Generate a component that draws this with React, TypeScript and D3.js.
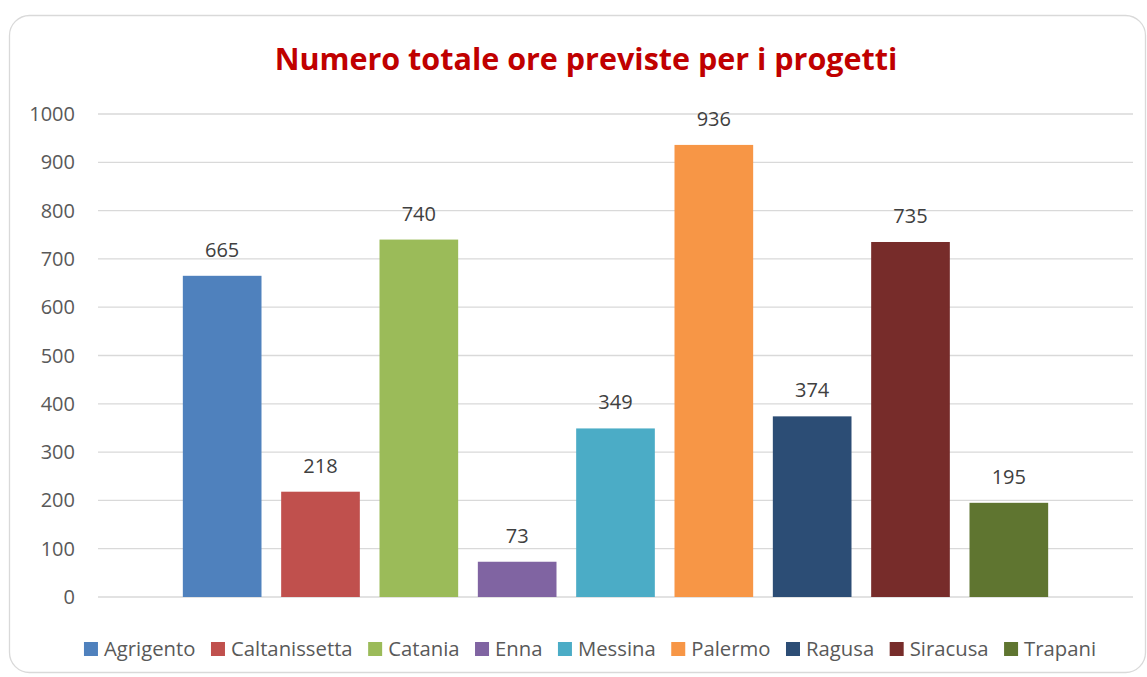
import React, { useEffect, useRef } from 'react'
import * as d3 from 'd3'

const provinces = ['Agrigento', 'Caltanissetta', 'Catania', 'Enna', 'Messina', 'Palermo', 'Ragusa', 'Siracusa', 'Trapani']
const hours = [665, 218, 740, 73, 349, 936, 374, 735, 195]
const colors = ['#4F81BD', '#C0504D', '#9BBB59', '#8064A2', '#4BACC6', '#F79646', '#2C4D75', '#772C2A', '#5F7530']
const yTicks = [0, 100, 200, 300, 400, 500, 600, 700, 800, 900, 1000]

const W = 1147
const H = 677
const FONT = '"Open Sans", Lato, sans-serif'

const App = () => {
    const legendRef = useRef<SVGGElement>(null)

    const plotLeft = 98
    const plotRight = 1133
    const y = d3.scaleLinear().domain([0, 1000]).range([597, 114])
    // 9 bars clustered in the middle of the plot, like a single-category Excel chart
    const x = d3.scaleBand().domain(provinces).range([173, 1058]).paddingInner(0.2).paddingOuter(0.1)

    useEffect(() => {
        // legend, laid out from measured text widths and centered
        const g = d3.select(legendRef.current)
        g.selectAll('*').remove()
        const items = g.selectAll('g').data(provinces).join('g')
        items.append('rect').attr('width', 14).attr('height', 14).attr('y', -14)
            .attr('fill', (d, i) => colors[i])
        items.append('text').attr('x', 20).attr('y', 0).text(d => d)
            .attr('font-family', FONT).attr('font-size', 20.3).attr('fill', '#595959')
        const widths: number[] = []
        items.each(function () {
            widths.push((this as SVGGElement).getBBox().width)
        })
        const gap = 15.5
        const total = d3.sum(widths) + gap * (widths.length - 1)
        let cx = 590 - total / 2
        items.attr('transform', (d, i) => {
            const t = `translate(${cx},656)`
            cx += widths[i] + gap
            return t
        })
    }, [])

    return (
        <svg width={W} height={H} style={{ position: 'absolute', left: 0, top: 0 }}>
            <rect x={0} y={0} width={W} height={H} fill='#fff' />
            <rect x={9.5} y={15.5} width={1136} height={657} rx={20} fill='#fff' stroke='#d9d9d9' strokeWidth={1.3} />
            <text x={586} y={70} textAnchor='middle' fontFamily={FONT} fontWeight='bold' fontSize={30.5} fill='#C00000'>
                Numero totale ore previste per i progetti
            </text>
            {yTicks.map(t => (
                <g key={t}>
                    <line x1={plotLeft} x2={plotRight} y1={y(t)} y2={y(t)} stroke='#d9d9d9' strokeWidth={1.3} />
                    <text x={75} y={y(t) + 7} textAnchor='end' fontFamily={FONT} fontSize={20} fill='#595959'>{t}</text>
                </g>
            ))}
            {provinces.map((p, i) => (
                <g key={p}>
                    <rect x={x(p)} y={y(hours[i])} width={x.bandwidth()} height={y(0) - y(hours[i])} fill={colors[i]} />
                    <text x={(x(p) ?? 0) + x.bandwidth() / 2} y={y(hours[i]) - 19} textAnchor='middle'
                        fontFamily={FONT} fontSize={20} fill='#404040'>{hours[i]}</text>
                </g>
            ))}
            <g ref={legendRef} />
        </svg>
    )
}

export default App
